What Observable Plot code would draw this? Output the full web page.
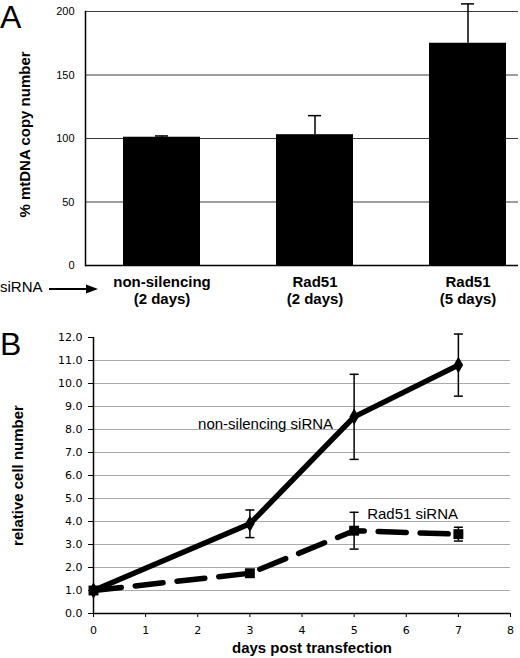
<!DOCTYPE html>
<html><head><meta charset="utf-8">
<script src="https://cdn.jsdelivr.net/npm/d3@7"></script>
<script src="https://cdn.jsdelivr.net/npm/@observablehq/plot@0.6"></script>
<style>
body{margin:0;background:#fff;}
#wrap{position:relative;width:520px;height:658px;overflow:hidden;font-family:"Liberation Sans",Arial,sans-serif;color:#000;}
.abs{position:absolute;}
.letter{font-size:32px;line-height:34px;}
#wrap svg{display:block;}
</style></head><body>
<div id="wrap"></div>
<script>
// ---- Panel A data ----
const catNames = ["non-silencing", "Rad51", "Rad51"];
const catDays = ["(2 days)", "(2 days)", "(5 days)"];
const mtdnaValues = [101, 103, 175];
const mtdnaErrors = [1, 15, 31];
const yTicksA = [0, 50, 100, 150, 200];
const titleA = "% mtDNA copy number";

// ---- Panel B data ----
const days = [0, 3, 5, 7];
const nonSilValues = [1.0, 3.9, 8.55, 10.8];
const nonSilErrors = [0, 0.6, 1.85, 1.35];
const rad51Values = [1.0, 1.75, 3.6, 3.45];
const rad51Errors = [0, 0, 0.8, 0.3];
const yTicksB = [0, 1, 2, 3, 4, 5, 6, 7, 8, 9, 10, 11, 12];
const gridB = [1, 2, 3, 4, 5, 6, 7, 8, 9, 10, 11];
const xTicksB = [0, 1, 2, 3, 4, 5, 6, 7, 8];
const titleBy = "relative cell number";
const titleBx = "days post transfection";
const seriesLabels = ["non-silencing siRNA", "Rad51 siRNA"];
const labelDay = 5;

const sans = '"Liberation Sans", Arial, Helvetica, sans-serif';
const wrap = document.getElementById("wrap");

const rowsA = catNames.map((n, i) => ({key: n + " " + catDays[i], name: n, days: catDays[i], value: mtdnaValues[i], err: mtdnaErrors[i]}));

const A = Plot.plot({
  width: 520, height: 312,
  marginLeft: 85, marginRight: 2, marginTop: 11, marginBottom: 47,
  style: {fontFamily: sans, fontSize: "11px", background: "transparent", color: "#000"},
  x: {type: "band", domain: rowsA.map(d => d.key), range: [84, 544], paddingInner: 0.5, paddingOuter: 0.25, axis: null},
  y: {domain: [0, 200], axis: null},
  marks: [
    Plot.gridY(yTicksA.filter(t => t > 0), {stroke: "#3c3c3c", strokeOpacity: 1, strokeWidth: 1}),
    Plot.axisY({ticks: yTicksA, tickSize: 0, tickPadding: 11, fontSize: 11, label: null}),
    Plot.barY(rowsA, {x: "key", y: "value", fill: "black"}),
    Plot.ruleX(rowsA, {x: "key", y1: "value", y2: d => d.value + d.err, stroke: "black", strokeWidth: 1.5}),
    Plot.tickY(rowsA, {x: "key", y: d => d.value + d.err, stroke: "black", strokeWidth: 1.5, insetLeft: 32, insetRight: 32}),
    Plot.ruleY([0], {stroke: "black", strokeWidth: 1.5}),
    Plot.frame({anchor: "left", stroke: "black", strokeWidth: 1.5}),
    Plot.text(rowsA, {x: "key", text: d => d.name + "\n" + d.days, frameAnchor: "bottom", lineAnchor: "top", dy: 10, fontWeight: "bold", fontSize: 15, lineHeight: 1.1}),
    Plot.text([titleA], {frameAnchor: "left", textAnchor: "middle", rotate: -90, dx: -60, dy: -4, fontWeight: "bold", fontSize: 15})
  ]
});
A.style.position = "absolute"; A.style.left = "0px"; A.style.top = "0px";
wrap.appendChild(A);

// ---- Panel B ----
const nonSilRows = days.map((d, i) => ({day: d, value: nonSilValues[i], err: nonSilErrors[i], label: seriesLabels[0]}));
const rad51Rows = days.map((d, i) => ({day: d, value: rad51Values[i], err: rad51Errors[i], label: seriesLabels[1]}));
const errRows = nonSilRows.concat(rad51Rows).filter(d => d.err > 0);
const cap = {draw(ctx, size) { const w = Math.sqrt(size / Math.PI); ctx.moveTo(-w, 0); ctx.lineTo(w, 0); }};

const B = Plot.plot({
  width: 520, height: 346,
  marginLeft: 93, marginRight: 10, marginTop: 25, marginBottom: 45,
  style: {fontFamily: '"DejaVu Sans", Verdana, sans-serif', fontSize: "11px", background: "transparent", color: "#000"},
  x: {domain: [0, 8], axis: null},
  y: {domain: [0, 12], axis: null},
  marks: [
    Plot.gridY(gridB, {stroke: "#a9a9a9", strokeOpacity: 1, strokeWidth: 1.2}),
    Plot.axisY({ticks: yTicksB, tickFormat: d => d.toFixed(1), tickSize: 5, tickPadding: 6, label: null, fontSize: 11}),
    Plot.axisX({ticks: xTicksB, tickFormat: d => String(d), tickSize: 4, tickPadding: 9, label: null, fontSize: 11}),
    Plot.ruleX([0], {stroke: "black", strokeWidth: 1.5}),
    Plot.ruleY([0], {stroke: "black", strokeWidth: 1.5}),
    Plot.line(nonSilRows, {x: "day", y: "value", stroke: "black", strokeWidth: 5.5}),
    Plot.line(rad51Rows, {x: "day", y: "value", stroke: "black", strokeWidth: 5.5, strokeDasharray: "28,14"}),
    Plot.ruleX(errRows, {x: "day", y1: d => d.value - d.err, y2: d => d.value + d.err, stroke: "black", strokeWidth: 1.5}),
    Plot.dot(errRows, {x: "day", y: d => d.value + d.err, symbol: cap, r: 4.5, fill: "none", stroke: "black", strokeWidth: 1.5}),
    Plot.dot(errRows, {x: "day", y: d => d.value - d.err, symbol: cap, r: 4.5, fill: "none", stroke: "black", strokeWidth: 1.5}),
    Plot.dot(nonSilRows, {x: "day", y: "value", symbol: "diamond", r: 5, fill: "black", stroke: "none"}),
    Plot.dot(rad51Rows, {x: "day", y: "value", symbol: "square", r: 5.6, fill: "black", stroke: "none"}),
    Plot.text(nonSilRows.filter(d => d.day === labelDay), {x: "day", y: "value", text: "label", textAnchor: "end", dx: -21, dy: 7, fontFamily: sans, fontSize: 15}),
    Plot.text(rad51Rows.filter(d => d.day === labelDay), {x: "day", y: "value", text: "label", textAnchor: "start", dx: 13, dy: -17, fontFamily: sans, fontSize: 15}),
    Plot.text([titleBy], {frameAnchor: "left", textAnchor: "middle", rotate: -90, dx: -75, fontWeight: "bold", fontSize: 15, fontFamily: sans}),
    Plot.text([titleBx], {frameAnchor: "bottom", dy: 39, dx: 10, fontWeight: "bold", fontSize: 15, fontFamily: sans})
  ]
});
B.style.position = "absolute"; B.style.left = "0px"; B.style.top = "312px";
wrap.appendChild(B);

// ---- annotations ----
function addDiv(text, cls, left, top, extra) {
  const d = document.createElement("div");
  d.className = "abs " + (cls || "");
  d.textContent = text;
  d.style.left = left + "px"; d.style.top = top + "px";
  if (extra) Object.assign(d.style, extra);
  wrap.appendChild(d);
}
addDiv("A", "letter", 0, 0);
addDiv("B", "letter", 0, 327);
addDiv("siRNA", "", 0, 279, {fontSize: "15px", lineHeight: "15px"});
const arrow = document.createElementNS("http://www.w3.org/2000/svg", "svg");
arrow.setAttribute("width", "54"); arrow.setAttribute("height", "12");
arrow.style.position = "absolute"; arrow.style.left = "48px"; arrow.style.top = "283px";
arrow.innerHTML = '<line x1="1" y1="6" x2="42" y2="6" stroke="black" stroke-width="2"/><polygon points="38,1.5 50,6 38,10.5" fill="black"/>';
wrap.appendChild(arrow);
</script>
</body></html>
